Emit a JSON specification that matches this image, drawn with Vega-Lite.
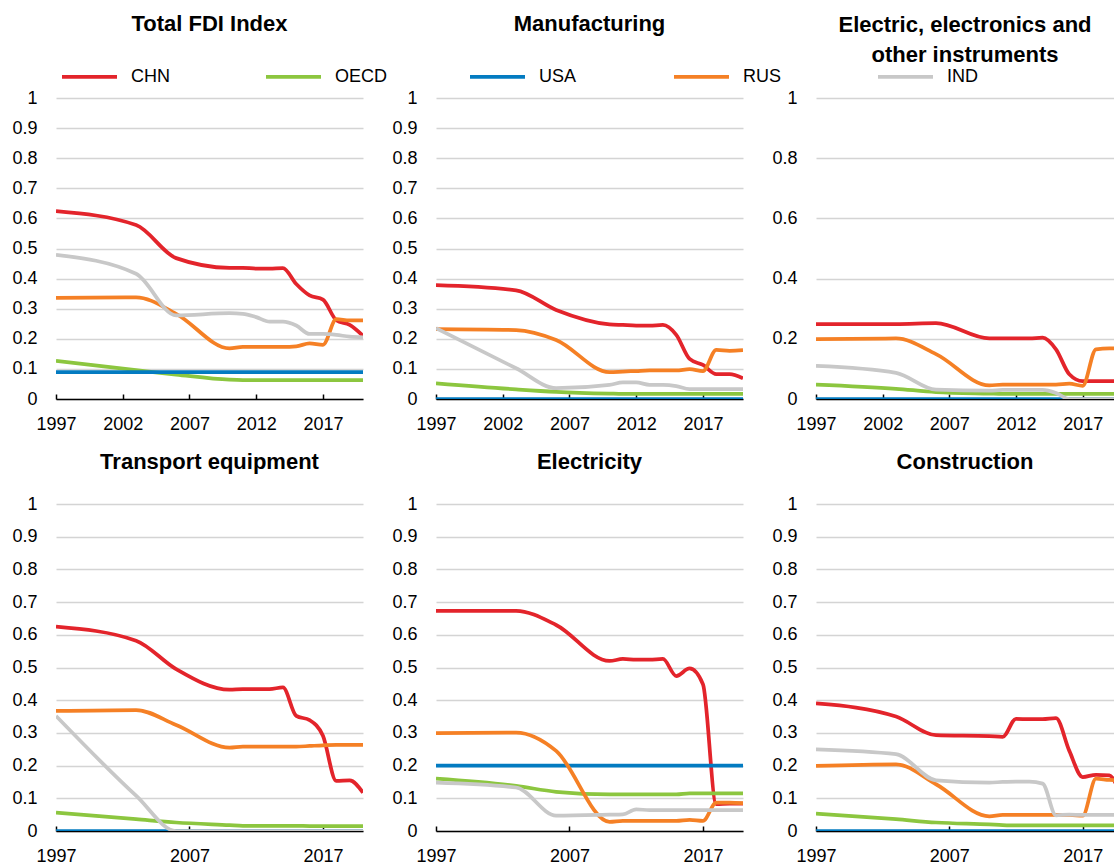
{
  "$schema": "https://vega.github.io/schema/vega-lite/v6.json",
  "background": "white",
  "padding": {"left": 11, "top": 13, "right": 0, "bottom": 0},
  "data": {
    "values": [
      {"panel": "Total FDI Index", "country": "CHN", "year": 1997, "value": 0.624},
      {"panel": "Total FDI Index", "country": "CHN", "year": 2003, "value": 0.578},
      {"panel": "Total FDI Index", "country": "CHN", "year": 2006, "value": 0.468},
      {"panel": "Total FDI Index", "country": "CHN", "year": 2010, "value": 0.436},
      {"panel": "Total FDI Index", "country": "CHN", "year": 2011, "value": 0.436},
      {"panel": "Total FDI Index", "country": "CHN", "year": 2012, "value": 0.433},
      {"panel": "Total FDI Index", "country": "CHN", "year": 2013, "value": 0.433},
      {"panel": "Total FDI Index", "country": "CHN", "year": 2014, "value": 0.435},
      {"panel": "Total FDI Index", "country": "CHN", "year": 2015, "value": 0.382},
      {"panel": "Total FDI Index", "country": "CHN", "year": 2016, "value": 0.344},
      {"panel": "Total FDI Index", "country": "CHN", "year": 2017, "value": 0.330},
      {"panel": "Total FDI Index", "country": "CHN", "year": 2018, "value": 0.262},
      {"panel": "Total FDI Index", "country": "CHN", "year": 2019, "value": 0.246},
      {"panel": "Total FDI Index", "country": "CHN", "year": 2020, "value": 0.210},
      {"panel": "Total FDI Index", "country": "OECD", "year": 1997, "value": 0.127},
      {"panel": "Total FDI Index", "country": "OECD", "year": 2003, "value": 0.096},
      {"panel": "Total FDI Index", "country": "OECD", "year": 2006, "value": 0.081},
      {"panel": "Total FDI Index", "country": "OECD", "year": 2010, "value": 0.064},
      {"panel": "Total FDI Index", "country": "OECD", "year": 2011, "value": 0.063},
      {"panel": "Total FDI Index", "country": "OECD", "year": 2012, "value": 0.063},
      {"panel": "Total FDI Index", "country": "OECD", "year": 2013, "value": 0.063},
      {"panel": "Total FDI Index", "country": "OECD", "year": 2014, "value": 0.063},
      {"panel": "Total FDI Index", "country": "OECD", "year": 2015, "value": 0.063},
      {"panel": "Total FDI Index", "country": "OECD", "year": 2016, "value": 0.063},
      {"panel": "Total FDI Index", "country": "OECD", "year": 2017, "value": 0.063},
      {"panel": "Total FDI Index", "country": "OECD", "year": 2018, "value": 0.063},
      {"panel": "Total FDI Index", "country": "OECD", "year": 2019, "value": 0.063},
      {"panel": "Total FDI Index", "country": "OECD", "year": 2020, "value": 0.063},
      {"panel": "Total FDI Index", "country": "USA", "year": 1997, "value": 0.089},
      {"panel": "Total FDI Index", "country": "USA", "year": 2003, "value": 0.089},
      {"panel": "Total FDI Index", "country": "USA", "year": 2006, "value": 0.089},
      {"panel": "Total FDI Index", "country": "USA", "year": 2010, "value": 0.089},
      {"panel": "Total FDI Index", "country": "USA", "year": 2015, "value": 0.089},
      {"panel": "Total FDI Index", "country": "USA", "year": 2020, "value": 0.089},
      {"panel": "Total FDI Index", "country": "RUS", "year": 1997, "value": 0.336},
      {"panel": "Total FDI Index", "country": "RUS", "year": 2003, "value": 0.338},
      {"panel": "Total FDI Index", "country": "RUS", "year": 2006, "value": 0.283},
      {"panel": "Total FDI Index", "country": "RUS", "year": 2010, "value": 0.168},
      {"panel": "Total FDI Index", "country": "RUS", "year": 2011, "value": 0.173},
      {"panel": "Total FDI Index", "country": "RUS", "year": 2012, "value": 0.173},
      {"panel": "Total FDI Index", "country": "RUS", "year": 2013, "value": 0.173},
      {"panel": "Total FDI Index", "country": "RUS", "year": 2014, "value": 0.173},
      {"panel": "Total FDI Index", "country": "RUS", "year": 2015, "value": 0.175},
      {"panel": "Total FDI Index", "country": "RUS", "year": 2016, "value": 0.185},
      {"panel": "Total FDI Index", "country": "RUS", "year": 2017, "value": 0.180},
      {"panel": "Total FDI Index", "country": "RUS", "year": 2018, "value": 0.265},
      {"panel": "Total FDI Index", "country": "RUS", "year": 2019, "value": 0.261},
      {"panel": "Total FDI Index", "country": "RUS", "year": 2020, "value": 0.261},
      {"panel": "Total FDI Index", "country": "IND", "year": 1997, "value": 0.479},
      {"panel": "Total FDI Index", "country": "IND", "year": 2003, "value": 0.416},
      {"panel": "Total FDI Index", "country": "IND", "year": 2006, "value": 0.278},
      {"panel": "Total FDI Index", "country": "IND", "year": 2010, "value": 0.285},
      {"panel": "Total FDI Index", "country": "IND", "year": 2011, "value": 0.283},
      {"panel": "Total FDI Index", "country": "IND", "year": 2012, "value": 0.272},
      {"panel": "Total FDI Index", "country": "IND", "year": 2013, "value": 0.257},
      {"panel": "Total FDI Index", "country": "IND", "year": 2014, "value": 0.257},
      {"panel": "Total FDI Index", "country": "IND", "year": 2015, "value": 0.244},
      {"panel": "Total FDI Index", "country": "IND", "year": 2016, "value": 0.216},
      {"panel": "Total FDI Index", "country": "IND", "year": 2017, "value": 0.216},
      {"panel": "Total FDI Index", "country": "IND", "year": 2018, "value": 0.213},
      {"panel": "Total FDI Index", "country": "IND", "year": 2019, "value": 0.207},
      {"panel": "Total FDI Index", "country": "IND", "year": 2020, "value": 0.205},

      {"panel": "Manufacturing", "country": "CHN", "year": 1997, "value": 0.378},
      {"panel": "Manufacturing", "country": "CHN", "year": 2003, "value": 0.361},
      {"panel": "Manufacturing", "country": "CHN", "year": 2006, "value": 0.296},
      {"panel": "Manufacturing", "country": "CHN", "year": 2010, "value": 0.248},
      {"panel": "Manufacturing", "country": "CHN", "year": 2011, "value": 0.246},
      {"panel": "Manufacturing", "country": "CHN", "year": 2012, "value": 0.244},
      {"panel": "Manufacturing", "country": "CHN", "year": 2013, "value": 0.244},
      {"panel": "Manufacturing", "country": "CHN", "year": 2014, "value": 0.246},
      {"panel": "Manufacturing", "country": "CHN", "year": 2015, "value": 0.213},
      {"panel": "Manufacturing", "country": "CHN", "year": 2016, "value": 0.133},
      {"panel": "Manufacturing", "country": "CHN", "year": 2017, "value": 0.113},
      {"panel": "Manufacturing", "country": "CHN", "year": 2018, "value": 0.083},
      {"panel": "Manufacturing", "country": "CHN", "year": 2019, "value": 0.083},
      {"panel": "Manufacturing", "country": "CHN", "year": 2020, "value": 0.069},
      {"panel": "Manufacturing", "country": "OECD", "year": 1997, "value": 0.052},
      {"panel": "Manufacturing", "country": "OECD", "year": 2003, "value": 0.032},
      {"panel": "Manufacturing", "country": "OECD", "year": 2006, "value": 0.024},
      {"panel": "Manufacturing", "country": "OECD", "year": 2010, "value": 0.018},
      {"panel": "Manufacturing", "country": "OECD", "year": 2011, "value": 0.017},
      {"panel": "Manufacturing", "country": "OECD", "year": 2012, "value": 0.017},
      {"panel": "Manufacturing", "country": "OECD", "year": 2013, "value": 0.017},
      {"panel": "Manufacturing", "country": "OECD", "year": 2014, "value": 0.017},
      {"panel": "Manufacturing", "country": "OECD", "year": 2015, "value": 0.017},
      {"panel": "Manufacturing", "country": "OECD", "year": 2016, "value": 0.017},
      {"panel": "Manufacturing", "country": "OECD", "year": 2017, "value": 0.017},
      {"panel": "Manufacturing", "country": "OECD", "year": 2018, "value": 0.017},
      {"panel": "Manufacturing", "country": "OECD", "year": 2019, "value": 0.017},
      {"panel": "Manufacturing", "country": "OECD", "year": 2020, "value": 0.017},
      {"panel": "Manufacturing", "country": "USA", "year": 1997, "value": 0},
      {"panel": "Manufacturing", "country": "USA", "year": 2010, "value": 0},
      {"panel": "Manufacturing", "country": "USA", "year": 2020, "value": 0},
      {"panel": "Manufacturing", "country": "RUS", "year": 1997, "value": 0.232},
      {"panel": "Manufacturing", "country": "RUS", "year": 2003, "value": 0.229},
      {"panel": "Manufacturing", "country": "RUS", "year": 2006, "value": 0.196},
      {"panel": "Manufacturing", "country": "RUS", "year": 2010, "value": 0.089},
      {"panel": "Manufacturing", "country": "RUS", "year": 2011, "value": 0.091},
      {"panel": "Manufacturing", "country": "RUS", "year": 2012, "value": 0.093},
      {"panel": "Manufacturing", "country": "RUS", "year": 2013, "value": 0.095},
      {"panel": "Manufacturing", "country": "RUS", "year": 2014, "value": 0.095},
      {"panel": "Manufacturing", "country": "RUS", "year": 2015, "value": 0.095},
      {"panel": "Manufacturing", "country": "RUS", "year": 2016, "value": 0.099},
      {"panel": "Manufacturing", "country": "RUS", "year": 2017, "value": 0.093},
      {"panel": "Manufacturing", "country": "RUS", "year": 2018, "value": 0.163},
      {"panel": "Manufacturing", "country": "RUS", "year": 2019, "value": 0.160},
      {"panel": "Manufacturing", "country": "RUS", "year": 2020, "value": 0.162},
      {"panel": "Manufacturing", "country": "IND", "year": 1997, "value": 0.235},
      {"panel": "Manufacturing", "country": "IND", "year": 2003, "value": 0.102},
      {"panel": "Manufacturing", "country": "IND", "year": 2006, "value": 0.036},
      {"panel": "Manufacturing", "country": "IND", "year": 2010, "value": 0.047},
      {"panel": "Manufacturing", "country": "IND", "year": 2011, "value": 0.055},
      {"panel": "Manufacturing", "country": "IND", "year": 2012, "value": 0.055},
      {"panel": "Manufacturing", "country": "IND", "year": 2013, "value": 0.047},
      {"panel": "Manufacturing", "country": "IND", "year": 2014, "value": 0.047},
      {"panel": "Manufacturing", "country": "IND", "year": 2015, "value": 0.043},
      {"panel": "Manufacturing", "country": "IND", "year": 2016, "value": 0.033},
      {"panel": "Manufacturing", "country": "IND", "year": 2017, "value": 0.033},
      {"panel": "Manufacturing", "country": "IND", "year": 2018, "value": 0.033},
      {"panel": "Manufacturing", "country": "IND", "year": 2019, "value": 0.033},
      {"panel": "Manufacturing", "country": "IND", "year": 2020, "value": 0.033},

      {"panel": "Electric", "country": "CHN", "year": 1997, "value": 0.249},
      {"panel": "Electric", "country": "CHN", "year": 2003, "value": 0.249},
      {"panel": "Electric", "country": "CHN", "year": 2006, "value": 0.252},
      {"panel": "Electric", "country": "CHN", "year": 2010, "value": 0.201},
      {"panel": "Electric", "country": "CHN", "year": 2011, "value": 0.201},
      {"panel": "Electric", "country": "CHN", "year": 2012, "value": 0.201},
      {"panel": "Electric", "country": "CHN", "year": 2013, "value": 0.201},
      {"panel": "Electric", "country": "CHN", "year": 2014, "value": 0.204},
      {"panel": "Electric", "country": "CHN", "year": 2015, "value": 0.165},
      {"panel": "Electric", "country": "CHN", "year": 2016, "value": 0.082},
      {"panel": "Electric", "country": "CHN", "year": 2017, "value": 0.059},
      {"panel": "Electric", "country": "CHN", "year": 2018, "value": 0.059},
      {"panel": "Electric", "country": "CHN", "year": 2019, "value": 0.059},
      {"panel": "Electric", "country": "CHN", "year": 2020, "value": 0.059},
      {"panel": "Electric", "country": "OECD", "year": 1997, "value": 0.048},
      {"panel": "Electric", "country": "OECD", "year": 2003, "value": 0.034},
      {"panel": "Electric", "country": "OECD", "year": 2006, "value": 0.023},
      {"panel": "Electric", "country": "OECD", "year": 2010, "value": 0.018},
      {"panel": "Electric", "country": "OECD", "year": 2011, "value": 0.017},
      {"panel": "Electric", "country": "OECD", "year": 2012, "value": 0.017},
      {"panel": "Electric", "country": "OECD", "year": 2013, "value": 0.017},
      {"panel": "Electric", "country": "OECD", "year": 2014, "value": 0.017},
      {"panel": "Electric", "country": "OECD", "year": 2015, "value": 0.017},
      {"panel": "Electric", "country": "OECD", "year": 2016, "value": 0.017},
      {"panel": "Electric", "country": "OECD", "year": 2017, "value": 0.017},
      {"panel": "Electric", "country": "OECD", "year": 2018, "value": 0.017},
      {"panel": "Electric", "country": "OECD", "year": 2019, "value": 0.017},
      {"panel": "Electric", "country": "OECD", "year": 2020, "value": 0.017},
      {"panel": "Electric", "country": "USA", "year": 1997, "value": 0},
      {"panel": "Electric", "country": "USA", "year": 2010, "value": 0},
      {"panel": "Electric", "country": "USA", "year": 2020, "value": 0},
      {"panel": "Electric", "country": "RUS", "year": 1997, "value": 0.199},
      {"panel": "Electric", "country": "RUS", "year": 2003, "value": 0.201},
      {"panel": "Electric", "country": "RUS", "year": 2006, "value": 0.149},
      {"panel": "Electric", "country": "RUS", "year": 2010, "value": 0.045},
      {"panel": "Electric", "country": "RUS", "year": 2011, "value": 0.048},
      {"panel": "Electric", "country": "RUS", "year": 2012, "value": 0.048},
      {"panel": "Electric", "country": "RUS", "year": 2013, "value": 0.048},
      {"panel": "Electric", "country": "RUS", "year": 2014, "value": 0.048},
      {"panel": "Electric", "country": "RUS", "year": 2015, "value": 0.048},
      {"panel": "Electric", "country": "RUS", "year": 2016, "value": 0.051},
      {"panel": "Electric", "country": "RUS", "year": 2017, "value": 0.044},
      {"panel": "Electric", "country": "RUS", "year": 2018, "value": 0.165},
      {"panel": "Electric", "country": "RUS", "year": 2019, "value": 0.168},
      {"panel": "Electric", "country": "RUS", "year": 2020, "value": 0.168},
      {"panel": "Electric", "country": "IND", "year": 1997, "value": 0.110},
      {"panel": "Electric", "country": "IND", "year": 2003, "value": 0.087},
      {"panel": "Electric", "country": "IND", "year": 2006, "value": 0.031},
      {"panel": "Electric", "country": "IND", "year": 2010, "value": 0.028},
      {"panel": "Electric", "country": "IND", "year": 2011, "value": 0.030},
      {"panel": "Electric", "country": "IND", "year": 2012, "value": 0.030},
      {"panel": "Electric", "country": "IND", "year": 2013, "value": 0.030},
      {"panel": "Electric", "country": "IND", "year": 2014, "value": 0.030},
      {"panel": "Electric", "country": "IND", "year": 2015, "value": 0.020},
      {"panel": "Electric", "country": "IND", "year": 2016, "value": 0},
      {"panel": "Electric", "country": "IND", "year": 2017, "value": 0},
      {"panel": "Electric", "country": "IND", "year": 2018, "value": 0},
      {"panel": "Electric", "country": "IND", "year": 2019, "value": 0},
      {"panel": "Electric", "country": "IND", "year": 2020, "value": 0},

      {"panel": "Transport equipment", "country": "CHN", "year": 1997, "value": 0.625},
      {"panel": "Transport equipment", "country": "CHN", "year": 2003, "value": 0.582},
      {"panel": "Transport equipment", "country": "CHN", "year": 2006, "value": 0.495},
      {"panel": "Transport equipment", "country": "CHN", "year": 2010, "value": 0.432},
      {"panel": "Transport equipment", "country": "CHN", "year": 2011, "value": 0.434},
      {"panel": "Transport equipment", "country": "CHN", "year": 2012, "value": 0.434},
      {"panel": "Transport equipment", "country": "CHN", "year": 2013, "value": 0.434},
      {"panel": "Transport equipment", "country": "CHN", "year": 2014, "value": 0.439},
      {"panel": "Transport equipment", "country": "CHN", "year": 2015, "value": 0.352},
      {"panel": "Transport equipment", "country": "CHN", "year": 2016, "value": 0.339},
      {"panel": "Transport equipment", "country": "CHN", "year": 2017, "value": 0.291},
      {"panel": "Transport equipment", "country": "CHN", "year": 2018, "value": 0.153},
      {"panel": "Transport equipment", "country": "CHN", "year": 2019, "value": 0.155},
      {"panel": "Transport equipment", "country": "CHN", "year": 2020, "value": 0.117},
      {"panel": "Transport equipment", "country": "OECD", "year": 1997, "value": 0.056},
      {"panel": "Transport equipment", "country": "OECD", "year": 2003, "value": 0.036},
      {"panel": "Transport equipment", "country": "OECD", "year": 2006, "value": 0.026},
      {"panel": "Transport equipment", "country": "OECD", "year": 2010, "value": 0.018},
      {"panel": "Transport equipment", "country": "OECD", "year": 2011, "value": 0.016},
      {"panel": "Transport equipment", "country": "OECD", "year": 2012, "value": 0.016},
      {"panel": "Transport equipment", "country": "OECD", "year": 2013, "value": 0.016},
      {"panel": "Transport equipment", "country": "OECD", "year": 2014, "value": 0.016},
      {"panel": "Transport equipment", "country": "OECD", "year": 2015, "value": 0.016},
      {"panel": "Transport equipment", "country": "OECD", "year": 2016, "value": 0.015},
      {"panel": "Transport equipment", "country": "OECD", "year": 2017, "value": 0.015},
      {"panel": "Transport equipment", "country": "OECD", "year": 2018, "value": 0.015},
      {"panel": "Transport equipment", "country": "OECD", "year": 2019, "value": 0.015},
      {"panel": "Transport equipment", "country": "OECD", "year": 2020, "value": 0.015},
      {"panel": "Transport equipment", "country": "USA", "year": 1997, "value": 0},
      {"panel": "Transport equipment", "country": "USA", "year": 2010, "value": 0},
      {"panel": "Transport equipment", "country": "USA", "year": 2020, "value": 0},
      {"panel": "Transport equipment", "country": "RUS", "year": 1997, "value": 0.367},
      {"panel": "Transport equipment", "country": "RUS", "year": 2003, "value": 0.370},
      {"panel": "Transport equipment", "country": "RUS", "year": 2006, "value": 0.324},
      {"panel": "Transport equipment", "country": "RUS", "year": 2010, "value": 0.255},
      {"panel": "Transport equipment", "country": "RUS", "year": 2011, "value": 0.258},
      {"panel": "Transport equipment", "country": "RUS", "year": 2012, "value": 0.258},
      {"panel": "Transport equipment", "country": "RUS", "year": 2013, "value": 0.258},
      {"panel": "Transport equipment", "country": "RUS", "year": 2014, "value": 0.258},
      {"panel": "Transport equipment", "country": "RUS", "year": 2015, "value": 0.258},
      {"panel": "Transport equipment", "country": "RUS", "year": 2016, "value": 0.260},
      {"panel": "Transport equipment", "country": "RUS", "year": 2017, "value": 0.262},
      {"panel": "Transport equipment", "country": "RUS", "year": 2018, "value": 0.263},
      {"panel": "Transport equipment", "country": "RUS", "year": 2019, "value": 0.263},
      {"panel": "Transport equipment", "country": "RUS", "year": 2020, "value": 0.263},
      {"panel": "Transport equipment", "country": "IND", "year": 1997, "value": 0.352},
      {"panel": "Transport equipment", "country": "IND", "year": 2003, "value": 0.108},
      {"panel": "Transport equipment", "country": "IND", "year": 2006, "value": 0},
      {"panel": "Transport equipment", "country": "IND", "year": 2010, "value": 0},
      {"panel": "Transport equipment", "country": "IND", "year": 2015, "value": 0},
      {"panel": "Transport equipment", "country": "IND", "year": 2020, "value": 0},

      {"panel": "Electricity", "country": "CHN", "year": 1997, "value": 0.673},
      {"panel": "Electricity", "country": "CHN", "year": 2003, "value": 0.673},
      {"panel": "Electricity", "country": "CHN", "year": 2006, "value": 0.630},
      {"panel": "Electricity", "country": "CHN", "year": 2010, "value": 0.520},
      {"panel": "Electricity", "country": "CHN", "year": 2011, "value": 0.526},
      {"panel": "Electricity", "country": "CHN", "year": 2012, "value": 0.524},
      {"panel": "Electricity", "country": "CHN", "year": 2013, "value": 0.524},
      {"panel": "Electricity", "country": "CHN", "year": 2014, "value": 0.526},
      {"panel": "Electricity", "country": "CHN", "year": 2015, "value": 0.474},
      {"panel": "Electricity", "country": "CHN", "year": 2016, "value": 0.497},
      {"panel": "Electricity", "country": "CHN", "year": 2017, "value": 0.449},
      {"panel": "Electricity", "country": "CHN", "year": 2018, "value": 0.082},
      {"panel": "Electricity", "country": "CHN", "year": 2019, "value": 0.084},
      {"panel": "Electricity", "country": "CHN", "year": 2020, "value": 0.084},
      {"panel": "Electricity", "country": "OECD", "year": 1997, "value": 0.160},
      {"panel": "Electricity", "country": "OECD", "year": 2003, "value": 0.138},
      {"panel": "Electricity", "country": "OECD", "year": 2006, "value": 0.120},
      {"panel": "Electricity", "country": "OECD", "year": 2010, "value": 0.112},
      {"panel": "Electricity", "country": "OECD", "year": 2011, "value": 0.112},
      {"panel": "Electricity", "country": "OECD", "year": 2012, "value": 0.112},
      {"panel": "Electricity", "country": "OECD", "year": 2013, "value": 0.112},
      {"panel": "Electricity", "country": "OECD", "year": 2014, "value": 0.112},
      {"panel": "Electricity", "country": "OECD", "year": 2015, "value": 0.112},
      {"panel": "Electricity", "country": "OECD", "year": 2016, "value": 0.115},
      {"panel": "Electricity", "country": "OECD", "year": 2017, "value": 0.115},
      {"panel": "Electricity", "country": "OECD", "year": 2018, "value": 0.115},
      {"panel": "Electricity", "country": "OECD", "year": 2019, "value": 0.115},
      {"panel": "Electricity", "country": "OECD", "year": 2020, "value": 0.115},
      {"panel": "Electricity", "country": "USA", "year": 1997, "value": 0.2},
      {"panel": "Electricity", "country": "USA", "year": 2010, "value": 0.2},
      {"panel": "Electricity", "country": "USA", "year": 2020, "value": 0.2},
      {"panel": "Electricity", "country": "RUS", "year": 1997, "value": 0.299},
      {"panel": "Electricity", "country": "RUS", "year": 2003, "value": 0.301},
      {"panel": "Electricity", "country": "RUS", "year": 2006, "value": 0.245},
      {"panel": "Electricity", "country": "RUS", "year": 2010, "value": 0.028},
      {"panel": "Electricity", "country": "RUS", "year": 2011, "value": 0.031},
      {"panel": "Electricity", "country": "RUS", "year": 2012, "value": 0.031},
      {"panel": "Electricity", "country": "RUS", "year": 2013, "value": 0.031},
      {"panel": "Electricity", "country": "RUS", "year": 2014, "value": 0.031},
      {"panel": "Electricity", "country": "RUS", "year": 2015, "value": 0.031},
      {"panel": "Electricity", "country": "RUS", "year": 2016, "value": 0.034},
      {"panel": "Electricity", "country": "RUS", "year": 2017, "value": 0.031},
      {"panel": "Electricity", "country": "RUS", "year": 2018, "value": 0.087},
      {"panel": "Electricity", "country": "RUS", "year": 2019, "value": 0.087},
      {"panel": "Electricity", "country": "RUS", "year": 2020, "value": 0.085},
      {"panel": "Electricity", "country": "IND", "year": 1997, "value": 0.148},
      {"panel": "Electricity", "country": "IND", "year": 2003, "value": 0.133},
      {"panel": "Electricity", "country": "IND", "year": 2006, "value": 0.047},
      {"panel": "Electricity", "country": "IND", "year": 2010, "value": 0.050},
      {"panel": "Electricity", "country": "IND", "year": 2011, "value": 0.051},
      {"panel": "Electricity", "country": "IND", "year": 2012, "value": 0.066},
      {"panel": "Electricity", "country": "IND", "year": 2013, "value": 0.064},
      {"panel": "Electricity", "country": "IND", "year": 2014, "value": 0.064},
      {"panel": "Electricity", "country": "IND", "year": 2015, "value": 0.064},
      {"panel": "Electricity", "country": "IND", "year": 2016, "value": 0.064},
      {"panel": "Electricity", "country": "IND", "year": 2017, "value": 0.064},
      {"panel": "Electricity", "country": "IND", "year": 2018, "value": 0.064},
      {"panel": "Electricity", "country": "IND", "year": 2019, "value": 0.064},
      {"panel": "Electricity", "country": "IND", "year": 2020, "value": 0.064},

      {"panel": "Construction", "country": "CHN", "year": 1997, "value": 0.390},
      {"panel": "Construction", "country": "CHN", "year": 2003, "value": 0.350},
      {"panel": "Construction", "country": "CHN", "year": 2006, "value": 0.293},
      {"panel": "Construction", "country": "CHN", "year": 2010, "value": 0.290},
      {"panel": "Construction", "country": "CHN", "year": 2011, "value": 0.288},
      {"panel": "Construction", "country": "CHN", "year": 2012, "value": 0.343},
      {"panel": "Construction", "country": "CHN", "year": 2013, "value": 0.342},
      {"panel": "Construction", "country": "CHN", "year": 2014, "value": 0.342},
      {"panel": "Construction", "country": "CHN", "year": 2015, "value": 0.345},
      {"panel": "Construction", "country": "CHN", "year": 2016, "value": 0.245},
      {"panel": "Construction", "country": "CHN", "year": 2017, "value": 0.165},
      {"panel": "Construction", "country": "CHN", "year": 2018, "value": 0.172},
      {"panel": "Construction", "country": "CHN", "year": 2019, "value": 0.170},
      {"panel": "Construction", "country": "CHN", "year": 2020, "value": 0.090},
      {"panel": "Construction", "country": "OECD", "year": 1997, "value": 0.053},
      {"panel": "Construction", "country": "OECD", "year": 2003, "value": 0.036},
      {"panel": "Construction", "country": "OECD", "year": 2006, "value": 0.026},
      {"panel": "Construction", "country": "OECD", "year": 2010, "value": 0.020},
      {"panel": "Construction", "country": "OECD", "year": 2011, "value": 0.018},
      {"panel": "Construction", "country": "OECD", "year": 2012, "value": 0.017},
      {"panel": "Construction", "country": "OECD", "year": 2013, "value": 0.017},
      {"panel": "Construction", "country": "OECD", "year": 2014, "value": 0.017},
      {"panel": "Construction", "country": "OECD", "year": 2015, "value": 0.017},
      {"panel": "Construction", "country": "OECD", "year": 2016, "value": 0.017},
      {"panel": "Construction", "country": "OECD", "year": 2017, "value": 0.017},
      {"panel": "Construction", "country": "OECD", "year": 2018, "value": 0.017},
      {"panel": "Construction", "country": "OECD", "year": 2019, "value": 0.017},
      {"panel": "Construction", "country": "OECD", "year": 2020, "value": 0.017},
      {"panel": "Construction", "country": "USA", "year": 1997, "value": 0},
      {"panel": "Construction", "country": "USA", "year": 2010, "value": 0},
      {"panel": "Construction", "country": "USA", "year": 2020, "value": 0},
      {"panel": "Construction", "country": "RUS", "year": 1997, "value": 0.199},
      {"panel": "Construction", "country": "RUS", "year": 2003, "value": 0.204},
      {"panel": "Construction", "country": "RUS", "year": 2006, "value": 0.143},
      {"panel": "Construction", "country": "RUS", "year": 2010, "value": 0.045},
      {"panel": "Construction", "country": "RUS", "year": 2011, "value": 0.049},
      {"panel": "Construction", "country": "RUS", "year": 2012, "value": 0.049},
      {"panel": "Construction", "country": "RUS", "year": 2013, "value": 0.049},
      {"panel": "Construction", "country": "RUS", "year": 2014, "value": 0.049},
      {"panel": "Construction", "country": "RUS", "year": 2015, "value": 0.049},
      {"panel": "Construction", "country": "RUS", "year": 2016, "value": 0.049},
      {"panel": "Construction", "country": "RUS", "year": 2017, "value": 0.047},
      {"panel": "Construction", "country": "RUS", "year": 2018, "value": 0.160},
      {"panel": "Construction", "country": "RUS", "year": 2019, "value": 0.156},
      {"panel": "Construction", "country": "RUS", "year": 2020, "value": 0.155},
      {"panel": "Construction", "country": "IND", "year": 1997, "value": 0.250},
      {"panel": "Construction", "country": "IND", "year": 2003, "value": 0.235},
      {"panel": "Construction", "country": "IND", "year": 2006, "value": 0.155},
      {"panel": "Construction", "country": "IND", "year": 2010, "value": 0.148},
      {"panel": "Construction", "country": "IND", "year": 2011, "value": 0.150},
      {"panel": "Construction", "country": "IND", "year": 2012, "value": 0.151},
      {"panel": "Construction", "country": "IND", "year": 2013, "value": 0.151},
      {"panel": "Construction", "country": "IND", "year": 2014, "value": 0.145},
      {"panel": "Construction", "country": "IND", "year": 2015, "value": 0.048},
      {"panel": "Construction", "country": "IND", "year": 2016, "value": 0.050},
      {"panel": "Construction", "country": "IND", "year": 2017, "value": 0.049},
      {"panel": "Construction", "country": "IND", "year": 2018, "value": 0.049},
      {"panel": "Construction", "country": "IND", "year": 2019, "value": 0.049},
      {"panel": "Construction", "country": "IND", "year": 2020, "value": 0.049}
    ]
  },
  "config": {
    "font": "Liberation Sans, Arial, sans-serif",
    "view": {"stroke": null},
    "axis": {
      "labelFont": "Liberation Sans, Arial, sans-serif",
      "labelFontSize": 18,
      "labelColor": "#000000",
      "title": null
    },
    "axisX": {
      "grid": false,
      "domainColor": "#000000",
      "domainWidth": 1.5,
      "tickColor": "#000000",
      "tickWidth": 1.5,
      "tickSize": -5,
      "labelPadding": 21,
      "format": "d",
      "labelFlush": false
    },
    "axisY": {
      "grid": true,
      "gridColor": "#D4D4D4",
      "gridWidth": 1.5,
      "domain": false,
      "ticks": false,
      "tickSize": 0,
      "labelPadding": 19,
      "format": "~g"
    },
    "title": {
      "font": "Liberation Sans, Arial, sans-serif",
      "fontSize": 22,
      "fontWeight": "bold",
      "color": "#000000",
      "anchor": "middle",
      "frame": "group",
      "baseline": "bottom",
      "lineHeight": 30
    },
    "legend": {
      "orient": "none",
      "legendX": 4,
      "legendY": -51,
      "direction": "horizontal",
      "columns": 5,
      "gridAlign": "all",
      "columnPadding": 74,
      "padding": 0,
      "symbolType": "stroke",
      "symbolSize": 3025,
      "symbolStrokeWidth": 5,
      "labelFont": "Liberation Sans, Arial, sans-serif",
      "labelFontSize": 18,
      "labelColor": "#000000",
      "labelOffset": 12
    },
    "line": {"strokeWidth": 3.75, "interpolate": "monotone"}
  },
  "resolve": {"scale": {"color": "shared"}, "legend": {"color": "shared"}},
  "bounds": "flush",
  "columns": 3,
  "spacing": {"row": 105, "column": 73},
  "concat": [
    {
      "title": {"text": "Total FDI Index", "offset": 53},
      "width": 307,
      "height": 301,
      "transform": [{"filter": {"field": "panel", "equal": "Total FDI Index"}}],
      "mark": {"type": "line", "clip": true},
      "encoding": {
        "x": {"field": "year", "type": "quantitative", "scale": {"domain": [1997, 2020], "nice": false, "zero": false}, "axis": {"values": [1997, 2002, 2007, 2012, 2017]}},
        "y": {"field": "value", "type": "quantitative", "scale": {"domain": [0, 1], "nice": false}, "axis": {"values": [0, 0.1, 0.2, 0.3, 0.4, 0.5, 0.6, 0.7, 0.8, 0.9, 1]}},
        "color": {"field": "country", "type": "nominal", "scale": {"domain": ["CHN", "OECD", "USA", "RUS", "IND"], "range": ["#E3242B", "#8CC63F", "#037BC1", "#F58025", "#C8C8C8"]}, "legend": {"title": null}}
      }
    },
    {
      "title": {"text": "Manufacturing", "offset": 53},
      "width": 307,
      "height": 301,
      "transform": [{"filter": {"field": "panel", "equal": "Manufacturing"}}],
      "mark": {"type": "line", "clip": true},
      "encoding": {
        "x": {"field": "year", "type": "quantitative", "scale": {"domain": [1997, 2020], "nice": false, "zero": false}, "axis": {"values": [1997, 2002, 2007, 2012, 2017]}},
        "y": {"field": "value", "type": "quantitative", "scale": {"domain": [0, 1], "nice": false}, "axis": {"values": [0, 0.1, 0.2, 0.3, 0.4, 0.5, 0.6, 0.7, 0.8, 0.9, 1]}},
        "color": {"field": "country", "type": "nominal", "scale": {"domain": ["CHN", "OECD", "USA", "RUS", "IND"], "range": ["#E3242B", "#8CC63F", "#037BC1", "#F58025", "#C8C8C8"]}, "legend": {"title": null}}
      }
    },
    {
      "title": {"text": ["Electric, electronics and", "other instruments"], "offset": 22},
      "width": 298,
      "height": 301,
      "transform": [{"filter": {"field": "panel", "equal": "Electric"}}],
      "mark": {"type": "line", "clip": true},
      "encoding": {
        "x": {"field": "year", "type": "quantitative", "scale": {"domain": [1997, 2019.35], "nice": false, "zero": false}, "axis": {"values": [1997, 2002, 2007, 2012, 2017]}},
        "y": {"field": "value", "type": "quantitative", "scale": {"domain": [0, 1], "nice": false}, "axis": {"values": [0, 0.2, 0.4, 0.6, 0.8, 1]}},
        "color": {"field": "country", "type": "nominal", "scale": {"domain": ["CHN", "OECD", "USA", "RUS", "IND"], "range": ["#E3242B", "#8CC63F", "#037BC1", "#F58025", "#C8C8C8"]}, "legend": {"title": null}}
      }
    },
    {
      "title": {"text": "Transport equipment", "offset": 21},
      "width": 307,
      "height": 327,
      "transform": [{"filter": {"field": "panel", "equal": "Transport equipment"}}],
      "mark": {"type": "line", "clip": true},
      "encoding": {
        "x": {"field": "year", "type": "quantitative", "scale": {"domain": [1997, 2020], "nice": false, "zero": false}, "axis": {"values": [1997, 2007, 2017]}},
        "y": {"field": "value", "type": "quantitative", "scale": {"domain": [0, 1], "nice": false}, "axis": {"values": [0, 0.1, 0.2, 0.3, 0.4, 0.5, 0.6, 0.7, 0.8, 0.9, 1]}},
        "color": {"field": "country", "type": "nominal", "scale": {"domain": ["CHN", "OECD", "USA", "RUS", "IND"], "range": ["#E3242B", "#8CC63F", "#037BC1", "#F58025", "#C8C8C8"]}, "legend": {"title": null}}
      }
    },
    {
      "title": {"text": "Electricity", "offset": 21},
      "width": 307,
      "height": 327,
      "transform": [{"filter": {"field": "panel", "equal": "Electricity"}}],
      "mark": {"type": "line", "clip": true},
      "encoding": {
        "x": {"field": "year", "type": "quantitative", "scale": {"domain": [1997, 2020], "nice": false, "zero": false}, "axis": {"values": [1997, 2007, 2017]}},
        "y": {"field": "value", "type": "quantitative", "scale": {"domain": [0, 1], "nice": false}, "axis": {"values": [0, 0.1, 0.2, 0.3, 0.4, 0.5, 0.6, 0.7, 0.8, 0.9, 1]}},
        "color": {"field": "country", "type": "nominal", "scale": {"domain": ["CHN", "OECD", "USA", "RUS", "IND"], "range": ["#E3242B", "#8CC63F", "#037BC1", "#F58025", "#C8C8C8"]}, "legend": {"title": null}}
      }
    },
    {
      "title": {"text": "Construction", "offset": 21},
      "width": 298,
      "height": 327,
      "transform": [{"filter": {"field": "panel", "equal": "Construction"}}],
      "mark": {"type": "line", "clip": true},
      "encoding": {
        "x": {"field": "year", "type": "quantitative", "scale": {"domain": [1997, 2019.35], "nice": false, "zero": false}, "axis": {"values": [1997, 2007, 2017]}},
        "y": {"field": "value", "type": "quantitative", "scale": {"domain": [0, 1], "nice": false}, "axis": {"values": [0, 0.1, 0.2, 0.3, 0.4, 0.5, 0.6, 0.7, 0.8, 0.9, 1]}},
        "color": {"field": "country", "type": "nominal", "scale": {"domain": ["CHN", "OECD", "USA", "RUS", "IND"], "range": ["#E3242B", "#8CC63F", "#037BC1", "#F58025", "#C8C8C8"]}, "legend": {"title": null}}
      }
    }
  ]
}
